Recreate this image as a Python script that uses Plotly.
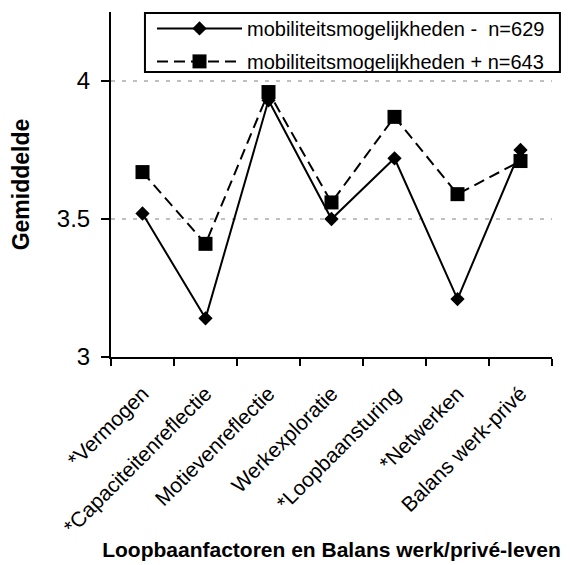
import plotly.graph_objects as go

categories = ["*Vermogen", "*Capaciteitenreflectie", "Motievenreflectie", "Werkexploratie",
              "*Loopbaansturing", "*Netwerken", "Balans werk-privé"]
mob_min = [3.52, 3.14, 3.93, 3.50, 3.72, 3.21, 3.75]
mob_plus = [3.67, 3.41, 3.96, 3.56, 3.87, 3.59, 3.71]
name_min = "mobiliteitsmogelijkheden - \u00a0n=629"
name_plus = "mobiliteitsmogelijkheden + n=643"
y_ticks = [3, 3.5, 4]
y_labels = ["3", "3.5", "4"]

FONT = "Liberation Sans, Arial, sans-serif"

fig = go.Figure()
fig.add_trace(go.Scatter(
    x=categories, y=mob_min, name=name_min, mode="lines+markers", legendgroup="a",
    line=dict(color="black", width=2),
    marker=dict(symbol="diamond", size=11, color="black"),
))
fig.add_trace(go.Scatter(
    x=categories, y=mob_plus, name=name_plus, mode="lines+markers", legendgroup="b",
    line=dict(color="black", width=2, dash="11px,6px"),
    marker=dict(symbol="square", size=14, color="black"),
))

# dashed reference lines at 3.5 and 4
for v in y_ticks[1:]:
    fig.add_shape(type="line", xref="paper", yref="y", x0=0, x1=1, y0=v, y1=v,
                  line=dict(color="#808080", width=1, dash="4px,7px"), layer="below")

# framed white box behind the legend entries
fig.add_shape(type="rect", xref="paper", yref="paper",
              x0=0.077, x1=1.018, y0=0.826, y1=0.997,
              line=dict(color="black", width=2), fillcolor="white", layer="above")

fig.update_layout(
    width=571, height=565,
    margin=dict(l=111, r=19, t=12, b=208, autoexpand=False),
    paper_bgcolor="white", plot_bgcolor="white",
    font=dict(family=FONT, color="black", size=20),
    showlegend=True,
    legend=dict(x=0.093, xanchor="left", y=1.009, yanchor="top",
                borderwidth=0, bgcolor="rgba(0,0,0,0)",
                font=dict(size=20, family=FONT), tracegroupgap=4,
                itemwidth=85),
    xaxis=dict(
        type="category", showline=True, linecolor="black", linewidth=2,
        ticks="outside", ticklen=7, tickwidth=2, tickcolor="black",
        tickson="boundaries", tickangle=-45, showgrid=False,
        ticklabelstandoff=14, automargin=False,
        tickfont=dict(size=21, family=FONT),
        range=[-0.5, 6.5],
        title=dict(text="<b>Loopbaanfactoren en Balans werk/privé-leven</b>",
                   font=dict(size=21, family=FONT), standoff=0),
    ),
    yaxis=dict(
        range=[3, 4.25], tickvals=y_ticks, ticktext=y_labels,
        showline=True, linecolor="black", linewidth=2,
        ticks="outside", ticklen=8, tickwidth=2, tickcolor="black",
        ticklabelstandoff=6, automargin=False,
        showgrid=False, zeroline=False,
        tickfont=dict(size=24, family=FONT),
        title=dict(text="<b>Gemiddelde</b>", font=dict(size=23, family=FONT), standoff=21),
    ),
)

fig.write_html("out.html")
